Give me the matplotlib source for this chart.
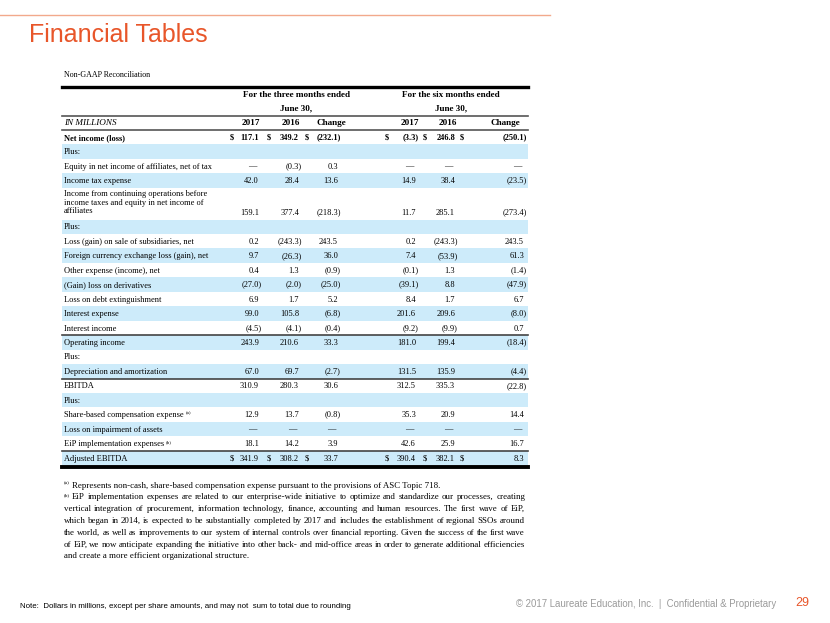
import matplotlib
matplotlib.use("Agg")
import matplotlib.pyplot as plt

# ---- data -------------------------------------------------------------
row_labels = [
    "Net income (loss)",
    "Plus:",
    "Equity in net income of affiliates, net of tax",
    "Income tax expense",
    "Income from continuing operations before\nincome taxes and equity in net income of\naffiliates",
    "Plus:",
    "Loss (gain) on sale of subsidiaries, net",
    "Foreign currency exchange loss (gain), net",
    "Other expense (income), net",
    "(Gain) loss on derivatives",
    "Loss on debt extinguishment",
    "Interest expense",
    "Interest income",
    "Operating income",
    "Plus:",
    "Depreciation and amortization",
    "EBITDA",
    "Plus:",
    "Share-based compensation expense",
    "Loss on impairment of assets",
    "EiP implementation expenses",
    "Adjusted EBITDA",
]
row_notes = {"Share-based compensation expense": "(a)", "EiP implementation expenses": "(b)"}

# None = dash (or nothing on the "Plus:" rows)
three_2017 = [117.1, None, None, 42.0, 159.1, None, 0.2, 9.7, 0.4, -27.0, 6.9, 99.0, -4.5, 243.9, None, 67.0, 310.9, None, 12.9, None, 18.1, 341.9]
three_2016 = [349.2, None, -0.3, 28.4, 377.4, None, -243.3, -26.3, 1.3, -2.0, 1.7, 105.8, -4.1, 210.6, None, 69.7, 280.3, None, 13.7, None, 14.2, 308.2]
three_chg = [-232.1, None, 0.3, 13.6, -218.3, None, 243.5, 36.0, -0.9, -25.0, 5.2, -6.8, -0.4, 33.3, None, -2.7, 30.6, None, -0.8, None, 3.9, 33.7]
six_2017 = [-3.3, None, None, 14.9, 11.7, None, 0.2, 7.4, -0.1, -39.1, 8.4, 201.6, -9.2, 181.0, None, 131.5, 312.5, None, 35.3, None, 42.6, 390.4]
six_2016 = [246.8, None, None, 38.4, 285.1, None, -243.3, -53.9, 1.3, 8.8, 1.7, 209.6, -9.9, 199.4, None, 135.9, 335.3, None, 20.9, None, 25.9, 382.1]
six_chg = [-250.1, None, None, -23.5, -273.4, None, 243.5, 61.3, -1.4, -47.9, 6.7, -8.0, 0.7, -18.4, None, -4.4, -22.8, None, 14.4, None, 16.7, 8.3]

period_headers = ["For the three months ended", "For the six months ended"]
col_headers = ["2017", "2016", "Change", "2017", "2016", "Change"]
dollar_rows = ["Net income (loss)", "Adjusted EBITDA"]
rule_above = ["Operating income", "EBITDA", "Adjusted EBITDA"]

footnotes = [
    ("(a)", "Represents non-cash, share-based compensation expense pursuant to the provisions of ASC Topic 718."),
    ("(b)", "EiP implementation expenses are related to our enterprise-wide initiative to optimize and standardize our processes, creating"),
    ("", "vertical integration of procurement, information technology, finance, accounting and human resources. The first wave of EiP,"),
    ("", "which began in 2014, is expected to be substantially completed by 2017 and includes the establishment of regional SSOs around"),
    ("", "the world, as well as improvements to our system of internal controls over financial reporting. Given the success of the first wave"),
    ("", "of EiP, we now anticipate expanding the initiative into other back- and mid-office areas in order to generate additional efficiencies"),
    ("", "and create a more efficient organizational structure."),
]
justified = [False, True, True, True, True, True, False]

# ---- style ------------------------------------------------------------
ORANGE = "#E8562A"
BLUE = "#CDEBFA"
SERIF = "Liberation Serif"
SANS = "Liberation Sans"
FS = 6.0      # table body
FSH = 6.6     # table header
FSN = 6.4     # footnotes

columns = [three_2017, three_2016, three_chg, six_2017, six_2016, six_chg]
num_right = [259, 299, 338, 416, 455, 524]
dollar_x = [230, 267, 305, 385, 423, 460]
head_x = [251, 291, 331, 410, 448, 505]
period_x = [296, 451]
left, right = 62, 528
BL = 2.6  # baseline offset below row centre


def fmt(v):
    if v is None:
        return "—"
    if v < 0:
        return "(%.1f)" % abs(v)
    return "%.1f" % v


fig = plt.figure(figsize=(8.3, 6.23), dpi=100)
ax = fig.add_axes([0, 0, 1, 1])
ax.set_xlim(0, 830)
ax.set_ylim(623, 0)
ax.axis("off")
renderer = fig.canvas.get_renderer()


def text_width(s, **kw):
    t = ax.text(0, 0, s, **kw)
    bb = t.get_window_extent(renderer)
    t.remove()
    return bb.width * 830 / fig.bbox.width


# slide header
ax.plot([0, 550], [15, 15], color="#F2A98C", lw=1.0)
ax.text(29, 35, "Financial Tables", fontsize=18, color=ORANGE, family=SANS, va="center")
ax.text(64, 74 + BL, "Non-GAAP Reconciliation", fontsize=5.8, family=SERIF, va="baseline")

# table header
ax.plot([left, right], [87, 87], color="black", lw=2.4)
for px, ph in zip(period_x, period_headers):
    ax.text(px, 94 + BL, ph, fontsize=FSH, family=SERIF, weight="bold", ha="center", va="baseline")
    ax.text(px, 108 + BL, "June 30,", fontsize=FSH, family=SERIF, weight="bold", ha="center", va="baseline")
ax.plot([left, right], [115.5, 115.5], color="#555555", lw=1.2)
ax.text(64, 122.5 + BL, "IN MILLIONS", fontsize=FSH, family=SERIF, style="italic", va="baseline")
for hx, h in zip(head_x, col_headers):
    ax.text(hx, 122.5 + BL, h, fontsize=FSH, family=SERIF, weight="bold", ha="center", va="baseline")
ax.plot([left, right], [130, 130], color="#555555", lw=1.2)

# table body
row_h = 14.45
y = 130.0
for i, label in enumerate(row_labels):
    multi = "\n" in label
    h = row_h * 2.2 if multi else row_h
    if i % 2 == 1:
        ax.fill_between([left, right], y, y + h, color=BLUE, lw=0)
    if label in rule_above:
        ax.plot([left, right], [y, y], color="#444444", lw=1.2)
    bold = "bold" if i == 0 else "normal"
    if multi:
        for k, part in enumerate(label.split("\n")):
            ax.text(64, y + 8.5 + 8.6 * k, part, fontsize=FS, family=SERIF, va="baseline")
        yv = y + h - 7.5 + BL
    else:
        yv = y + h / 2 + BL
        ax.text(64, yv, label, fontsize=FS, family=SERIF, va="baseline", weight=bold)
        if label in row_notes:
            w = text_width(label, fontsize=FS, family=SERIF)
            ax.text(64 + w + 2, yv - 3.5, row_notes[label], fontsize=FS - 2.4, family=SERIF, va="baseline")
    if label != "Plus:":
        for c, col in enumerate(columns):
            v = col[i]
            if v is None:
                ax.text(num_right[c] - 7, yv, "—", fontsize=FS, family=SERIF, ha="center", va="baseline")
            elif v < 0:
                ax.text(num_right[c] + 2.8, yv - 0.6, fmt(v), fontsize=FS, family=SERIF,
                        ha="right", va="baseline", weight=bold)
            else:
                ax.text(num_right[c], yv, fmt(v), fontsize=FS, family=SERIF, ha="right", va="baseline", weight=bold)
            if label in dollar_rows:
                ax.text(dollar_x[c], yv, "$", fontsize=FS, family=SERIF, ha="left", va="baseline", weight=bold)
    y += h

ax.plot([left, right], [y + 1.5, y + 1.5], color="black", lw=2.8)

# footnotes (justified like the source document)
fy = 485
line_end = 525
for (mark, line), just in zip(footnotes, justified):
    x0 = 64
    if mark:
        ax.text(64, fy + BL - 3.5, mark, fontsize=FSN - 2.6, family=SERIF, va="baseline")
        x0 = 72
    if just:
        words = line.split(" ")
        widths = [text_width(wd, fontsize=FSN, family=SERIF) for wd in words]
        gap = (line_end - x0 - sum(widths)) / (len(words) - 1)
        xx = x0
        for wd, wdw in zip(words, widths):
            ax.text(xx, fy + BL, wd, fontsize=FSN, family=SERIF, va="baseline")
            xx += wdw + gap
    else:
        ax.text(x0, fy + BL, line, fontsize=FSN, family=SERIF, va="baseline")
    fy += 11.8

# slide footer
ax.text(20, 607, "Note:  Dollars in millions, except per share amounts, and may not  sum to total due to rounding",
        fontsize=5.7, family=SANS, va="center")
ax.text(776, 604, "© 2017 Laureate Education, Inc.  |  Confidential & Proprietary",
        fontsize=6.9, family=SANS, color="#9A9A9A", ha="right", va="center")
ax.text(795, 603, "29", fontsize=9, family=SANS, color=ORANGE, va="center")

fig.savefig("out.png", dpi=100)
